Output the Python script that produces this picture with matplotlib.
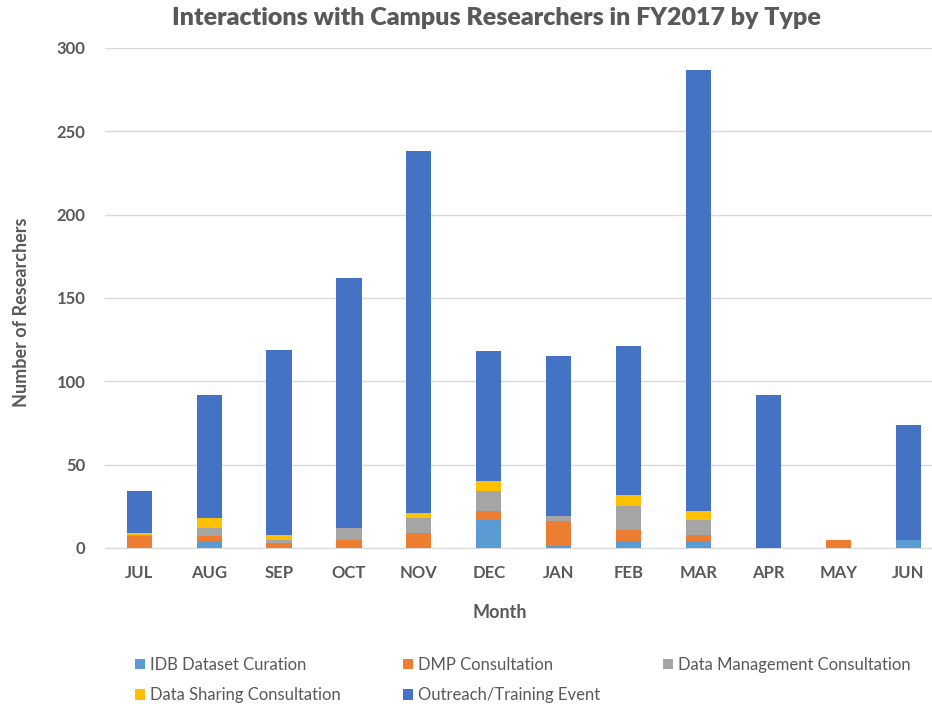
import matplotlib.pyplot as plt
import numpy as np

# Interactions with campus researchers, FY2017
months = ['JUL', 'AUG', 'SEP', 'OCT', 'NOV', 'DEC', 'JAN', 'FEB', 'MAR', 'APR', 'MAY', 'JUN']
idb_curation = [0, 4, 0, 0, 0, 17, 1, 4, 4, 0, 0, 5]
dmp_consult = [7, 3, 3, 5, 9, 5, 15, 7, 4, 0, 5, 0]
dm_consult = [1, 5, 2, 7, 9, 12, 3, 14, 9, 0, 0, 0]
sharing_consult = [1, 6, 3, 0, 3, 6, 0, 7, 5, 0, 0, 0]
outreach = [25, 74, 111, 150, 217, 78, 96, 89, 265, 92, 0, 69]

series = [
    ('IDB Dataset Curation', idb_curation, '#5B9BD5'),
    ('DMP Consultation', dmp_consult, '#ED7D31'),
    ('Data Management Consultation', dm_consult, '#A5A5A5'),
    ('Data Sharing Consultation', sharing_consult, '#FFC000'),
    ('Outreach/Training Event', outreach, '#4472C4'),
]

plt.rcParams['font.family'] = ['Lato', 'DejaVu Sans']
txt = '#595959'

fig = plt.figure(figsize=(9.32, 7.08), dpi=100)
ax = fig.add_axes([105 / 932, 160 / 708, 827 / 932, 500 / 708])

x = np.arange(len(months))
bottom = np.zeros(len(months))
handles = []
for name, vals, col in series:
    b = ax.bar(x, vals, 0.36, bottom=bottom, color=col, label=name, zorder=3)
    handles.append(b)
    bottom += np.array(vals)

ax.set_ylim(0, 300)
ax.set_xlim(-0.49, 11.34)
ax.set_yticks(range(0, 301, 50))
ax.set_xticks(x)
ax.set_xticklabels(months)
ax.yaxis.grid(True, color='#D9D9D9', linewidth=1, zorder=0)
for s in ['top', 'right', 'left']:
    ax.spines[s].set_visible(False)
ax.spines['bottom'].set_color('#D9D9D9')
ax.tick_params(axis='both', length=0, colors=txt, labelsize=12)
ax.tick_params(axis='x', pad=12)
ax.tick_params(axis='y', pad=14)
for lab in ax.get_xticklabels() + ax.get_yticklabels():
    lab.set_fontweight('bold')

fig.text(496 / 932, 1 - 18 / 708, 'Interactions with Campus Researchers in FY2017 by Type',
         ha='center', va='center', fontsize=18, fontweight='heavy', color=txt)
fig.text(500 / 932, 1 - 612 / 708, 'Month', ha='center', va='center',
         fontsize=13, fontweight='bold', color=txt)
fig.text(22 / 932, 1 - 312 / 708, 'Number of Researchers', ha='center', va='center',
         rotation=90, fontsize=13, fontweight='bold', color=txt)

# legend is row-major in the original, so reorder for matplotlib's column fill
order = [0, 3, 1, 4, 2]
leg = fig.legend([handles[i] for i in order], [series[i][0] for i in order],
                 ncol=3, loc='upper left', bbox_to_anchor=(120 / 932, 1 - 642 / 708),
                 frameon=False, fontsize=12, handlelength=0.6, handleheight=0.6,
                 handletextpad=0.3, columnspacing=3.75, labelspacing=0.85)
for t in leg.get_texts():
    t.set_color(txt)

fig.savefig('out.png', dpi=100)
